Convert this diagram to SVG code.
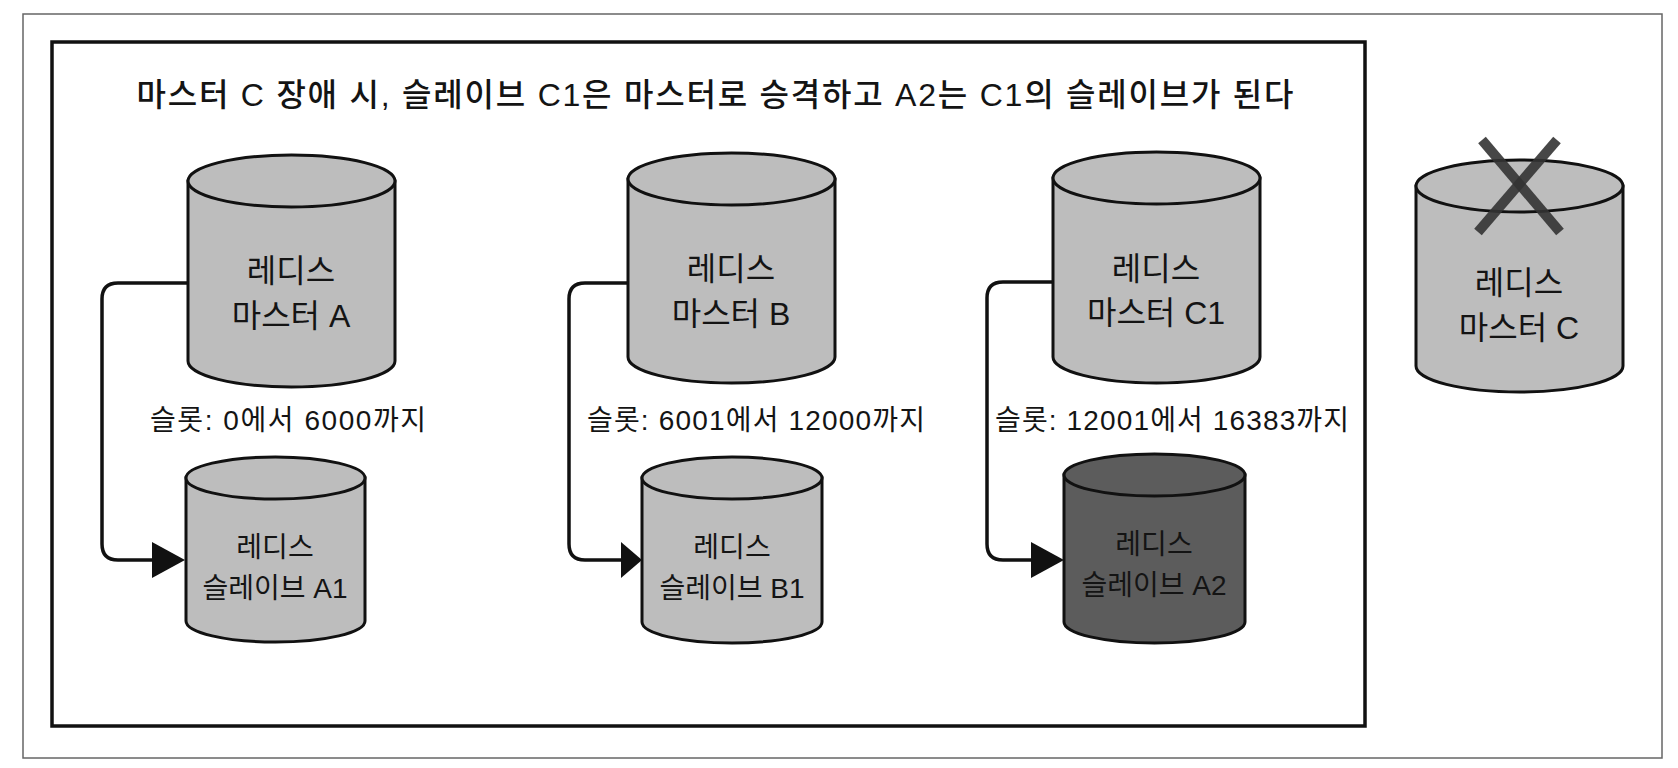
<svg xmlns="http://www.w3.org/2000/svg" width="1678" height="768" viewBox="0 0 1678 768">
<style>
.frame{fill:none;stroke:#666;stroke-width:1.5}
.inner{fill:none;stroke:#111;stroke-width:3.5}
.cyl{fill:#bdbdbd;stroke:#111;stroke-width:3}
.dark{fill:#5c5c5c;stroke:#111;stroke-width:3}
.t{font-family:"Liberation Sans","Noto Sans CJK KR",sans-serif;fill:#141414;text-anchor:middle}
.m{font-size:32px}
.s{font-size:28px}
.slot{font-size:28px;text-anchor:start}
.title{font-size:32px;font-weight:500}
.conn{fill:none;stroke:#111;stroke-width:3.5}
.x{stroke:#333;stroke-width:10;stroke-opacity:0.9}
</style>
<rect width="1678" height="768" fill="#fff"/>
<rect class="frame" x="23" y="14" width="1639" height="744"/>
<rect class="inner" x="52" y="42" width="1313" height="684"/>
<text class="t title" x="715" y="106" textLength="1157" lengthAdjust="spacing">마스터 C 장애 시, 슬레이브 C1은 마스터로 승격하고 A2는 C1의 슬레이브가 된다</text>

<g id="connectors">
<path class="conn" d="M188,283 H118 Q102,283 102,299 V544 Q102,560 118,560 H152"/>
<path d="M152,542 L185,560 L152,578 Z" fill="#111"/>
<path class="conn" d="M628,283 H585 Q569,283 569,299 V544 Q569,560 585,560 H622"/>
<path d="M621,542 L642,560 L621,578 Z" fill="#111"/>
<path class="conn" d="M1053,282 H1003 Q987,282 987,298 V544 Q987,560 1003,560 H1032"/>
<path d="M1031,542 L1064,560 L1031,578 Z" fill="#111"/>
</g>

<g id="masterA">
<path class="cyl" d="M188,181 V361 A103.5,26 0 0 0 395,361 V181 Z"/>
<ellipse class="cyl" cx="291.5" cy="181" rx="103.5" ry="26"/>
<text class="t m" x="291" y="282">레디스</text>
<text class="t m" x="291" y="327">마스터 A</text>
</g>
<g id="masterB">
<path class="cyl" d="M628,179 V357 A103.5,26 0 0 0 835,357 V179 Z"/>
<ellipse class="cyl" cx="731.5" cy="179" rx="103.5" ry="26"/>
<text class="t m" x="731" y="280">레디스</text>
<text class="t m" x="731" y="325">마스터 B</text>
</g>
<g id="masterC1">
<path class="cyl" d="M1053,178 V357 A103.5,26 0 0 0 1260,357 V178 Z"/>
<ellipse class="cyl" cx="1156.5" cy="178" rx="103.5" ry="26"/>
<text class="t m" x="1156" y="280">레디스</text>
<text class="t m" x="1156" y="324">마스터 C1</text>
</g>
<g id="masterC">
<path class="cyl" d="M1416,186 V366 A103.5,26 0 0 0 1623,366 V186 Z"/>
<ellipse class="cyl" cx="1519.5" cy="186" rx="103.5" ry="26"/>
<line class="x" x1="1482" y1="140" x2="1560" y2="232"/>
<line class="x" x1="1557" y1="140" x2="1478" y2="232"/>
<text class="t m" x="1519" y="294">레디스</text>
<text class="t m" x="1519" y="339">마스터 C</text>
</g>

<g id="slots">
<text class="t slot" x="150" y="430" textLength="276" lengthAdjust="spacing">슬롯: 0에서 6000까지</text>
<text class="t slot" x="587" y="430" textLength="338" lengthAdjust="spacing">슬롯: 6001에서 12000까지</text>
<text class="t slot" x="995" y="430" textLength="354" lengthAdjust="spacing">슬롯: 12001에서 16383까지</text>
</g>

<g id="slaveA1">
<path class="cyl" d="M186,478 V621 A89.5,21 0 0 0 365,621 V478 Z"/>
<ellipse class="cyl" cx="275.5" cy="478" rx="89.5" ry="21"/>
<text class="t s" x="275" y="557">레디스</text>
<text class="t s" x="275" y="598">슬레이브 A1</text>
</g>
<g id="slaveB1">
<path class="cyl" d="M642,478 V622 A90,21 0 0 0 822,622 V478 Z"/>
<ellipse class="cyl" cx="732" cy="478" rx="90" ry="21"/>
<text class="t s" x="732" y="557">레디스</text>
<text class="t s" x="732" y="598">슬레이브 B1</text>
</g>
<g id="slaveA2">
<path class="dark" d="M1064,475 V622 A90.5,21 0 0 0 1245,622 V475 Z"/>
<ellipse class="dark" cx="1154.5" cy="475" rx="90.5" ry="21"/>
<text class="t s" x="1154" y="554">레디스</text>
<text class="t s" x="1154" y="595">슬레이브 A2</text>
</g>
</svg>
